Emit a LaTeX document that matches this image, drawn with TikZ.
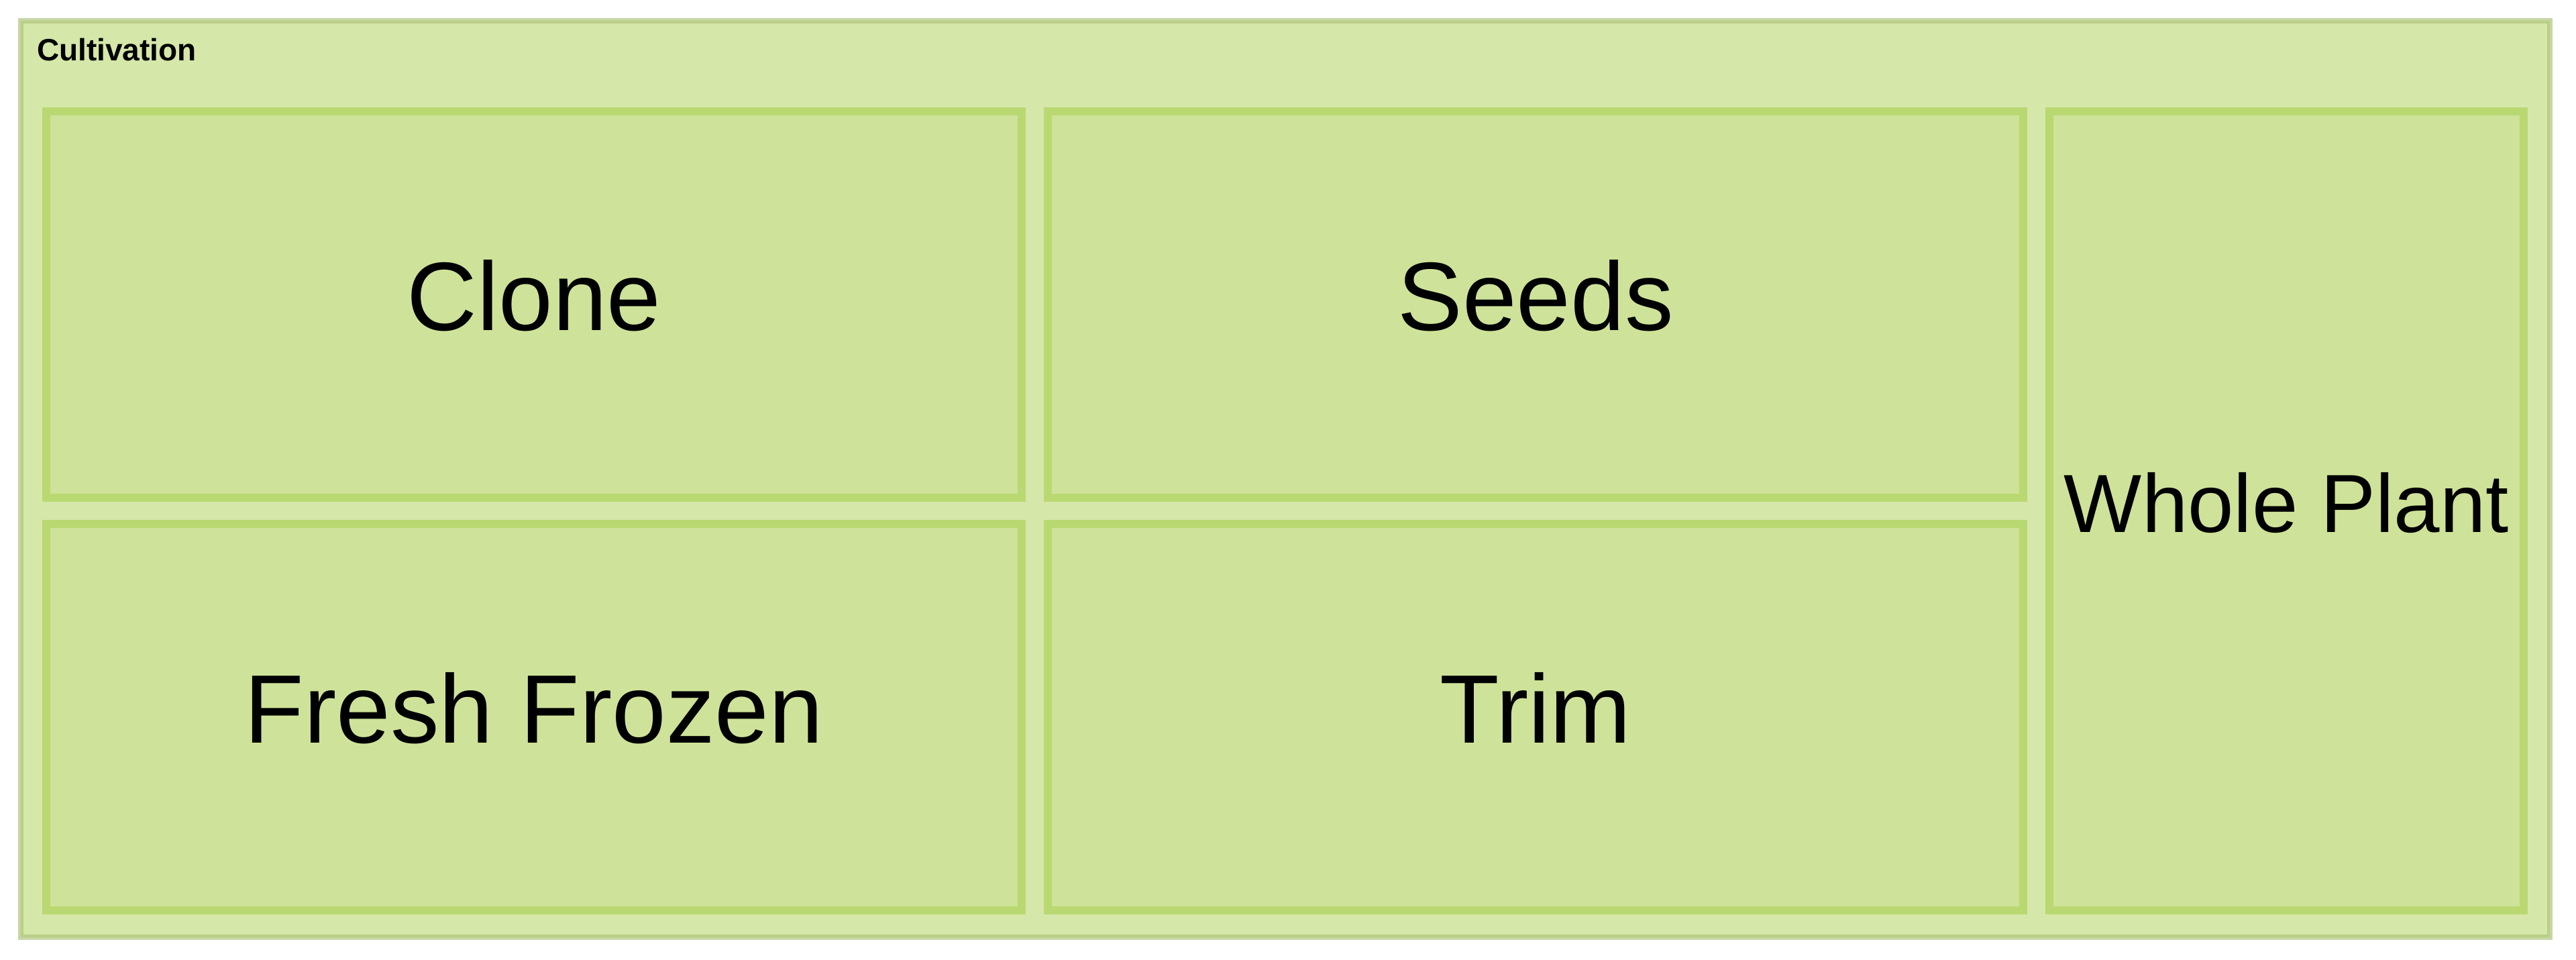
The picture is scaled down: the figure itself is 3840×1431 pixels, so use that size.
\documentclass[tikz,border=0pt]{standalone}
\usepackage{fontspec}
\setmainfont{Liberation Sans}
\definecolor{outerfill}{HTML}{D5E7A9}
\definecolor{outergray}{HTML}{C6D6A4}
\definecolor{outerdark}{HTML}{B9CF86}
\definecolor{cellfill}{HTML}{CEE399}
\definecolor{celledge}{HTML}{BAD872}
\tikzset{
  cell/.style={draw=celledge, fill=cellfill, line width=11.5pt, rectangle, inner sep=0pt, outer sep=0pt},
  lab/.style={anchor=base, inner sep=0pt, text=black, font=\fontsize{145}{150}\selectfont},
  labsmall/.style={anchor=base, inner sep=0pt, text=black, font=\fontsize{123}{126}\selectfont},
  title/.style={anchor=base west, inner sep=0pt, text=black, font=\bfseries\fontsize{46}{50}\selectfont}
}
\begin{document}
\begin{tikzpicture}[x=1pt,y=-1pt]
\useasboundingbox (0,0) rectangle (3840,1431);
\fill[outerfill] (27,27) rectangle (3805,1401);
\draw[outergray, line width=4pt] (29,29) rectangle (3803,1399);
\draw[outerdark, line width=4pt] (33,33) rectangle (3799,1395);
\node[title] (cultivation) at (55,91) {Cultivation};
\node[cell, minimum width=1454pt, minimum height=576pt] (clone) at (796,454) {};
\node[cell, minimum width=1454pt, minimum height=576pt] (seeds) at (2289,454) {};
\node[cell, minimum width=1454pt, minimum height=576pt] (fresh) at (796,1069) {};
\node[cell, minimum width=1454pt, minimum height=576pt] (trim) at (2289,1069) {};
\node[cell, minimum width=707pt, minimum height=1191pt] (whole) at (3408.5,761.5) {};
\node[lab] (clonetxt) at ([yshift=-38pt]clone.center) {Clone};
\node[lab] (seedstxt) at ([yshift=-38pt]seeds.center) {Seeds};
\node[lab] (freshtxt) at ([yshift=-38pt]fresh.center) {Fresh Frozen};
\node[lab] (trimtxt) at ([yshift=-38pt]trim.center) {Trim};
\node[labsmall] (wholetxt) at ([yshift=-32pt]whole.center) {Whole Plant};
\end{tikzpicture}
\end{document}
